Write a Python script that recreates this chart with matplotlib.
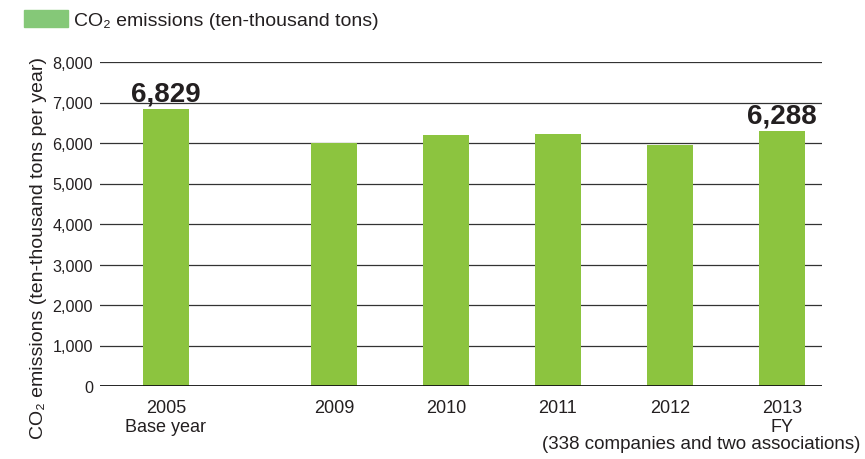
import matplotlib
matplotlib.use("Agg")
import matplotlib.pyplot as plt
from matplotlib.patches import Patch

plt.rcParams['font.family'] = ['Liberation Sans', 'DejaVu Sans']

years = ["2005", "2009", "2010", "2011", "2012", "2013"]
sublabels = ["Base year", "", "", "", "", "FY"]
positions = [0, 1.5, 2.5, 3.5, 4.5, 5.5]
emissions = [6829, 6010, 6190, 6220, 5960, 6288]
labeled = {0: "6,829", 5: "6,288"}
yticks = [0, 1000, 2000, 3000, 4000, 5000, 6000, 7000, 8000]

bar_color = "#8cc43f"
legend_color = "#85c878"
text_color = "#231f20"

fig = plt.figure(figsize=(8.65, 4.6), dpi=100)
ax = fig.add_axes([100/865, 1-387/460, (822-100)/865, (387-63)/460])

for y in yticks[1:]:
    ax.axhline(y, color="#333333", lw=0.9, zorder=1)
ax.axhline(0, color="#111111", lw=2.0, zorder=3)

ax.bar(positions, emissions, width=0.41, color=bar_color, zorder=2)

for i, txt in labeled.items():
    ax.text(positions[i], emissions[i] + 220, txt, ha="center", va="baseline",
            fontsize=20, fontweight="bold", color=text_color)

ax.set_xlim(-0.589, 5.86)
ax.set_ylim(0, 8000)
ax.set_yticks(yticks)
ax.set_yticklabels([f"{v:,}" for v in yticks], fontsize=11.6, color=text_color)
ax.set_xticks(positions)
ax.set_xticklabels([f"{y}\n{s}" if s else y for y, s in zip(years, sublabels)],
                   fontsize=13, color=text_color, linespacing=1.17)
ax.tick_params(axis="x", length=0, pad=9.5)
ax.tick_params(axis="y", length=0, pad=5)
for s in ax.spines.values():
    s.set_visible(False)

ax.set_ylabel("CO₂ emissions (ten-thousand tons per year)", fontsize=14,
              color=text_color)
ax.yaxis.set_label_coords(-0.074, 0.43)

fig.text(860/865, 1-445/460, "(338 companies and two associations)", ha="right",
         va="center", fontsize=13.5, color=text_color)

fig.legend(handles=[Patch(color=legend_color, label="CO₂ emissions (ten-thousand tons)")],
           loc="upper left", bbox_to_anchor=(24/865, 1-11/460), frameon=False,
           borderaxespad=0, borderpad=0, handlelength=2.27, handleheight=0.93,
           handletextpad=0.3, fontsize=14, labelcolor=text_color)

fig.savefig("out.png", dpi=100)
